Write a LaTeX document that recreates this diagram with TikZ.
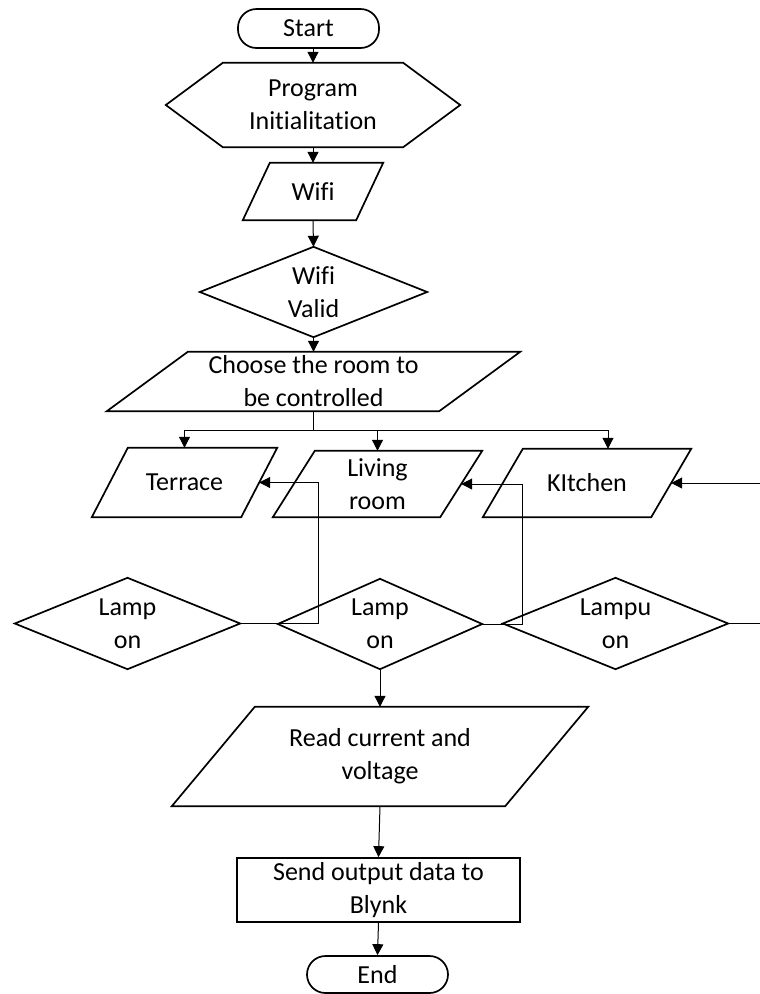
\documentclass[tikz,border=0pt]{standalone}
\usepackage{fontspec}
\setmainfont{Carlito}[Ligatures=NoCommon]
\usetikzlibrary{arrows.meta}
\tikzset{
  lbl/.style={draw=none, inner sep=0pt, align=center, font=\fontsize{26}{33}\selectfont},
  outline/.style={draw=black, line width=1.7pt, line join=miter},
  term/.style={lbl, draw=black, line width=1.7pt, rounded corners=18.5pt},
  boxed/.style={lbl, draw=black, line width=1.7pt},
  flow/.style={draw=black, line width=1pt, -{Triangle[length=11pt,width=11pt]}},
  wire/.style={draw=black, line width=1pt},
}
\newcommand{\paraout}[2]{\draw[outline] ([xshift=#2]#1.north west) -- (#1.north east) -- ([xshift=-#2]#1.south east) -- (#1.south west) -- cycle;}
\newcommand{\diaout}[1]{\draw[outline] (#1.north) -- (#1.east) -- (#1.south) -- (#1.west) -- cycle;}
\begin{document}
\begin{tikzpicture}[x=1pt,y=-1pt]
\useasboundingbox (0,0) rectangle (760,994);
% nodes
\node[term, minimum width=141pt, minimum height=39pt] (start) at (308.5,28.5) {Start};
\node[lbl, minimum width=294pt, minimum height=84pt] (init) at (313,105) {Program\\Initialitation};
\draw[outline] (init.west) -- ([xshift=57pt]init.north west) -- ([xshift=-57pt]init.north east) -- (init.east) -- ([xshift=-57pt]init.south east) -- ([xshift=57pt]init.south west) -- cycle;
\node[lbl, minimum width=140pt, minimum height=57pt] (wifi) at (313,191.5) {Wifi};
\paraout{wifi}{27pt}
\node[lbl, minimum width=227pt, minimum height=90pt] (valid) at (313.5,292) {Wifi\\Valid};
\diaout{valid}
\node[lbl, minimum width=413pt, minimum height=59pt] (choose) at (313.5,381.5) {Choose the room to\\be controlled};
\paraout{choose}{81pt}
\node[lbl, minimum width=185pt, minimum height=69pt] (terr) at (184.5,482.5) {Terrace};
\paraout{terr}{36pt}
\node[lbl, minimum width=209pt, minimum height=66pt] (liv) at (377.5,484) {Living\\room};
\paraout{liv}{42pt}
\node[lbl, minimum width=208pt, minimum height=68pt] (kit) at (587,483) {KItchen};
\paraout{kit}{40pt}
\node[lbl, minimum width=225pt, minimum height=91pt] (lamp1) at (127.5,623.5) {Lamp\\on};
\diaout{lamp1}
\node[lbl, minimum width=204pt, minimum height=90pt] (lamp2) at (380,624) {Lamp\\on};
\diaout{lamp2}
\node[lbl, minimum width=225pt, minimum height=91pt] (lampu) at (615.5,623.5) {Lampu\\on};
\diaout{lampu}
\node[lbl, minimum width=416pt, minimum height=99pt] (read) at (380,756.5) {Read current and\\voltage};
\paraout{read}{83pt}
\node[boxed, minimum width=283pt, minimum height=64pt] (send) at (378.5,890) {Send output data to\\Blynk};
\node[term, minimum width=141pt, minimum height=37pt] (end) at (377.5,974.5) {End};
% helper coordinates
\coordinate (br) at (313.5,430);
\coordinate (kitin) at ([xshift=21pt]kit.north);
\coordinate (terrR) at ([xshift=-18pt]terr.east);
\coordinate (livR) at ([xshift=-21pt]liv.east);
\coordinate (kitR) at ([xshift=-20pt]kit.east);
\coordinate (j1) at (318,623.5);
\coordinate (j2) at (522,624);
\coordinate (rightout) at (760,623.5);
\coordinate (rightin) at (760,483);
% connectors
\draw[flow] (start.south -| init.north) -- (init.north);
\draw[flow] (init.south) -- (wifi.north);
\draw[flow] (wifi.south) -- (valid.north);
\draw[flow] (valid.south) -- (choose.north);
\draw[wire] (choose.south) -- (br);
\draw[wire] (terr.north |- br) -- (kitin |- br);
\draw[flow] (terr.north |- br) -- (terr.north);
\draw[flow] (liv.north |- br) -- (liv.north);
\draw[flow] (kitin |- br) -- (kitin);
\draw[flow] (lamp1.east) -- (j1) |- (terrR);
\draw[flow] (lamp2.east) -- (j2) |- (livR);
\draw[wire] (lampu.east) -- (rightout);
\draw[flow] (rightin) -- (kitR);
\draw[flow] (lamp2.south) -- (read.north);
\draw[flow] (read.south) -- (send.north);
\draw[flow] (send.south) -- (end.north);
\end{tikzpicture}
\end{document}
